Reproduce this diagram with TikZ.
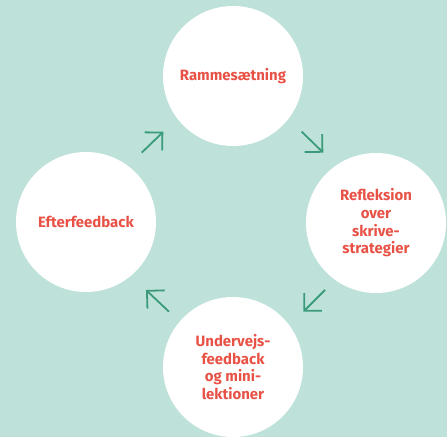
\documentclass[tikz,border=0pt]{standalone}
\usepackage{fontspec}
\setmainfont{Fira Sans}
\usetikzlibrary{arrows.meta}

\definecolor{bgteal}{RGB}{190,226,218}
\definecolor{arrowgreen}{RGB}{58,154,122}
\definecolor{labelred}{RGB}{232,82,70}

\tikzset{
  phase/.style={circle, fill=white, minimum size=140bp, inner sep=0pt,
    text=labelred, align=center, font=\bfseries\fontsize{15}{17.7}\selectfont},
  cyclearrow/.style={arrowgreen, line width=1.8bp,
    -{Straight Barb[length=12.5bp, width=25bp, line width=1.8bp]}}
}

\begin{document}
\begin{tikzpicture}[x=1bp, y=-1bp]
\fill[bgteal] (0, 0) rectangle (447, 437);
\useasboundingbox (0, 0) rectangle (447, 437);

\node[phase] (ramme)  at (233,  76) {Rammesætning};
\node[phase] (refl)   at (376, 223) {Refleksion\\over\\skrive-\\strategier};
\node[phase] (underv) at (233, 367) {Undervejs-\\feedback\\og mini-\\lektioner};
\node[phase] (efter)  at ( 86, 222) {Efterfeedback};

\coordinate (a1s) at (141.7, 152.7);
\coordinate (a1e) at (163.3, 131.7);
\coordinate (a2s) at (301.7, 131.7);
\coordinate (a2e) at (323.3, 152.7);
\coordinate (a3s) at (325.0, 290.0);
\coordinate (a3e) at (303.3, 311.7);
\coordinate (a4s) at (169.0, 311.7);
\coordinate (a4e) at (146.0, 290.0);

\draw[cyclearrow] (a1s) -- (a1e);
\draw[cyclearrow] (a2s) -- (a2e);
\draw[cyclearrow] (a3s) -- (a3e);
\draw[cyclearrow] (a4s) -- (a4e);

\end{tikzpicture}
\end{document}
